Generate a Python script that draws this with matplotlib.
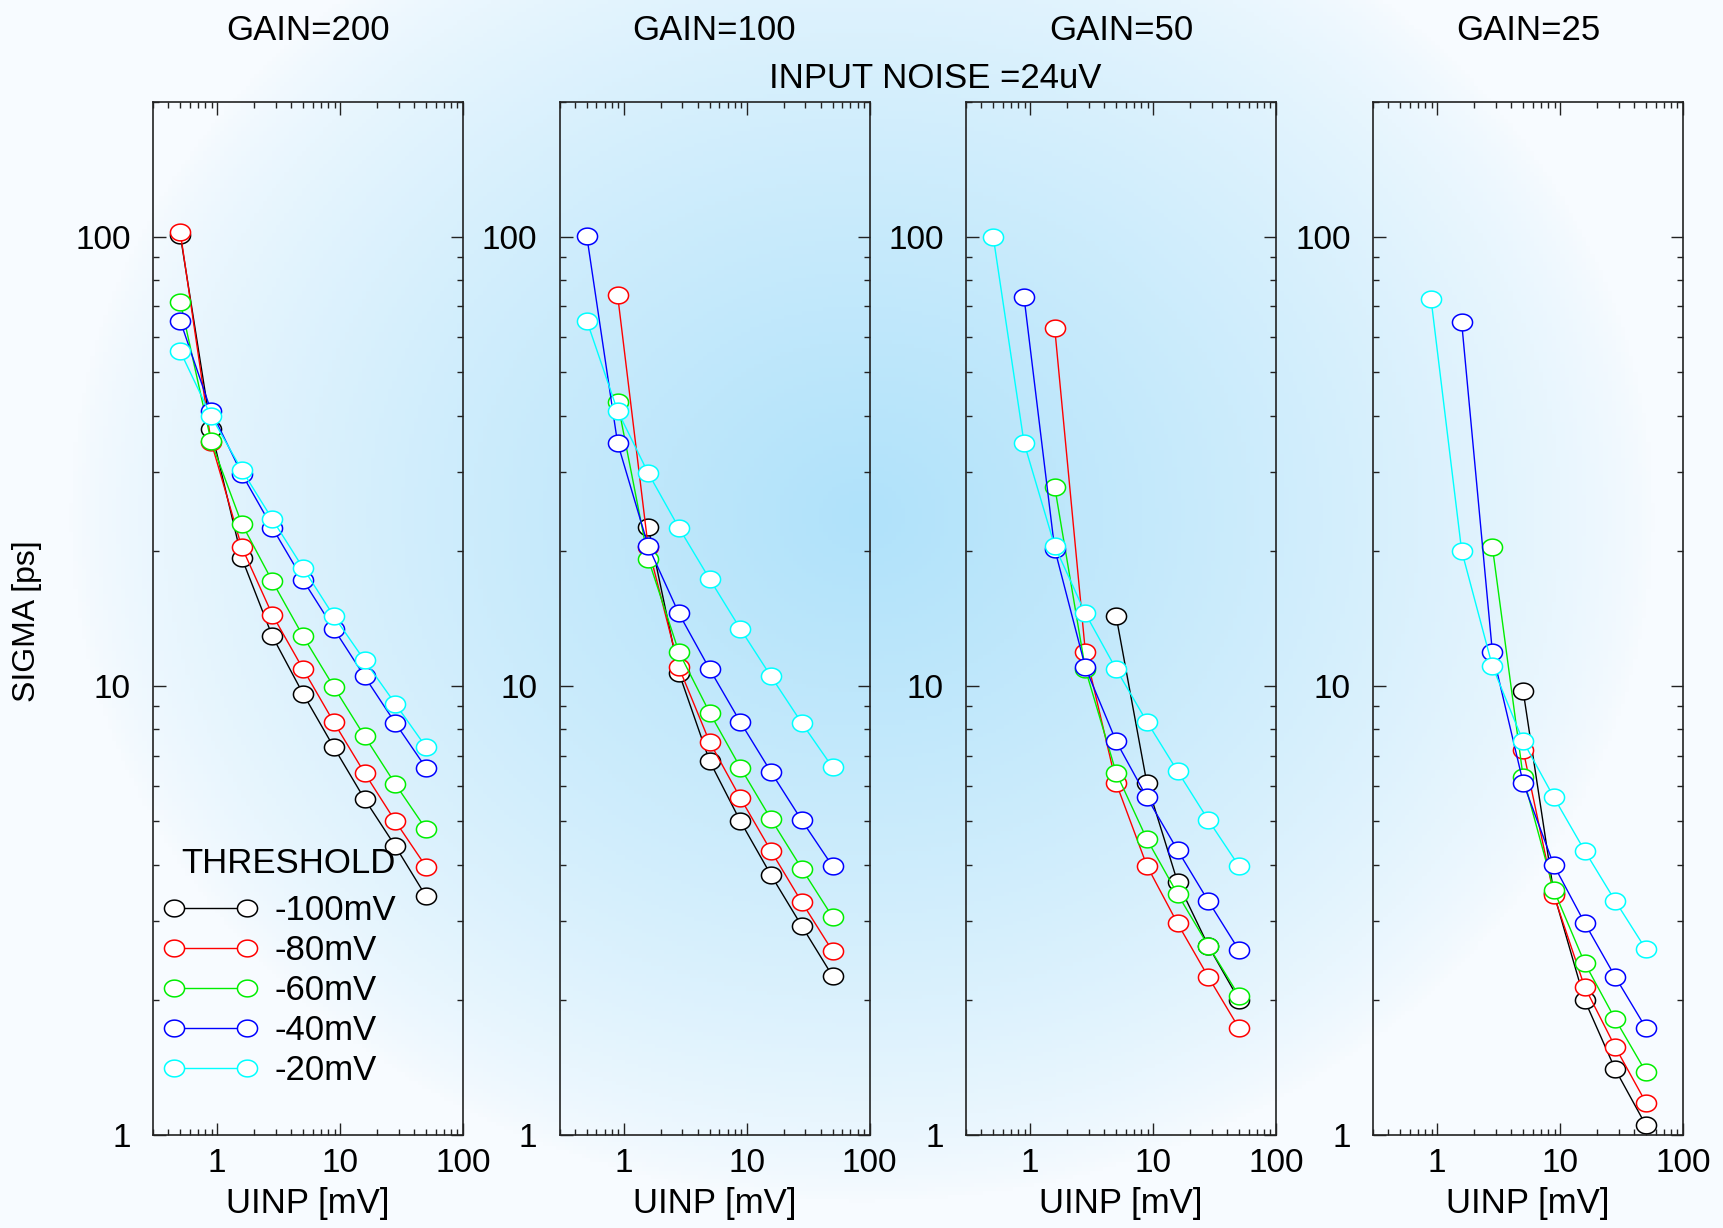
import numpy as np
import matplotlib
matplotlib.use("Agg")
import matplotlib.pyplot as plt
from matplotlib.path import Path
from matplotlib.ticker import LogLocator, NullFormatter, FixedLocator, FixedFormatter

plt.rcParams['font.family'] = ['Liberation Sans', 'DejaVu Sans']

nan = np.nan
uinp = [0.5, 0.89, 1.58, 2.81, 5.0, 8.89, 15.8, 28.1, 50.0]
gains = ["GAIN=200", "GAIN=100", "GAIN=50", "GAIN=25"]
thresholds = ["-100mV", "-80mV", "-60mV", "-40mV", "-20mV"]
colors = ["black", "#ff0000", "#00ee00", "#0000ff", "#00ffff"]

g200_m100 = [101, 37.3, 19.3, 12.9, 9.6, 7.3, 5.6, 4.4, 3.4]
g200_m80 = [102.5, 35.0, 20.4, 14.4, 10.9, 8.3, 6.4, 5.0, 3.96]
g200_m60 = [71.7, 35.1, 23.0, 17.1, 12.9, 9.95, 7.73, 6.05, 4.8]
g200_m40 = [65.0, 41.0, 29.7, 22.5, 17.2, 13.4, 10.5, 8.27, 6.57]
g200_m20 = [55.6, 39.9, 30.3, 23.5, 18.3, 14.3, 11.4, 9.13, 7.31]

g100_m100 = [nan, nan, 22.6, 10.7, 6.8, 5.0, 3.79, 2.92, 2.26]
g100_m80 = [nan, 74.4, 20.4, 11.0, 7.5, 5.63, 4.29, 3.30, 2.57]
g100_m60 = [nan, 42.9, 19.2, 11.9, 8.72, 6.58, 5.05, 3.92, 3.06]
g100_m40 = [100.5, 34.8, 20.5, 14.5, 10.9, 8.31, 6.43, 5.02, 3.97]
g100_m20 = [65.1, 41.0, 29.8, 22.5, 17.3, 13.4, 10.5, 8.27, 6.59]

g50_m100 = [nan, nan, nan, nan, 14.3, 6.08, 3.66, 2.64, 2.0]
g50_m80 = [nan, nan, 62.8, 11.9, 6.08, 3.98, 2.96, 2.25, 1.73]
g50_m60 = [nan, nan, 27.8, 10.9, 6.41, 4.56, 3.44, 2.64, 2.04]
g50_m40 = [nan, 73.4, 20.2, 11.0, 7.53, 5.65, 4.31, 3.32, 2.58]
g50_m20 = [100.0, 34.8, 20.5, 14.5, 10.9, 8.33, 6.46, 5.03, 3.97]

g25_m100 = [nan, nan, nan, nan, 9.75, 3.45, 2.0, 1.40, 1.05]
g25_m80 = [nan, nan, nan, nan, 7.2, 3.42, 2.14, 1.57, 1.18]
g25_m60 = [nan, nan, nan, 20.4, 6.27, 3.51, 2.42, 1.81, 1.38]
g25_m40 = [nan, nan, 64.5, 11.9, 6.09, 3.99, 2.97, 2.25, 1.73]
g25_m20 = [nan, 72.7, 20.0, 11.07, 7.53, 5.65, 4.30, 3.32, 2.59]

panels = [
    [g200_m100, g200_m80, g200_m60, g200_m40, g200_m20],
    [g100_m100, g100_m80, g100_m60, g100_m40, g100_m20],
    [g50_m100, g50_m80, g50_m60, g50_m40, g50_m20],
    [g25_m100, g25_m80, g25_m60, g25_m40, g25_m20],
]

W, H = 1724, 1228
fig = plt.figure(figsize=(W / 100, H / 100), dpi=100)

# background gradient
bg = fig.add_axes([0, 0, 1, 1], zorder=-10)
yy, xx = np.mgrid[0:1:300j, 0:1:400j]
r = np.sqrt(((xx - 0.5) / 0.46) ** 2 + ((yy - 0.42) / 0.56) ** 2)
t = np.clip(1 - r, 0, 1) ** 0.75
c_edge = np.array([247, 251, 255]) / 255.0
c_mid = np.array([176, 226, 250]) / 255.0
img = c_edge[None, None, :] * (1 - t[..., None]) + c_mid[None, None, :] * t[..., None]
bg.imshow(img, extent=[0, 1, 0, 1], aspect='auto', origin='upper')
bg.set_axis_off()

# elliptical marker
th = np.linspace(0, 2 * np.pi, 41)
ell = Path(np.column_stack([1.2 * np.cos(th), np.sin(th)]), closed=True)

lefts_px = [153, 559.5, 966, 1373]
ax_w = 310 / W
ax_b = (H - 1135) / H
ax_h = (1135 - 101.7) / H
fs = 24

for i, (title, series) in enumerate(zip(gains, panels)):
    ax = fig.add_axes([lefts_px[i] / W, ax_b, ax_w, ax_h])
    ax.set_facecolor('none')
    for lab, col, vals in zip(thresholds, colors, series):
        ax.plot(uinp, vals, color=col, lw=1.0, marker=ell, ms=14.5,
                mfc='white', mec=col, mew=1.1, label=lab)
    ax.set_xscale('log')
    ax.set_yscale('log')
    ax.set_xlim(0.3, 100)
    ax.set_ylim(1, 200)
    for axis in (ax.xaxis, ax.yaxis):
        axis.set_major_locator(FixedLocator([1, 10, 100]))
        axis.set_major_formatter(FixedFormatter(["1", "10", "100"]))
        axis.set_minor_locator(LogLocator(base=10, subs=np.arange(2, 10)))
        axis.set_minor_formatter(NullFormatter())
    ax.tick_params(which='both', direction='in', top=True, right=True,
                   labelsize=fs, color='#222222', width=1.0)
    ax.tick_params(which='major', length=9)
    ax.tick_params(which='minor', length=4.5)
    ax.tick_params(axis='y', which='major', pad=16)
    ax.tick_params(axis='x', which='major', pad=9)
    for s in ax.spines.values():
        s.set_linewidth(1.2)
        s.set_color('#222222')
    cx = (lefts_px[i] + 155) / W
    fig.text(cx, 1 - 30 / H, title, ha='center', va='center', fontsize=fs + 1)
    fig.text(cx, 1 - 1204 / H, "UINP [mV]", ha='center', va='center', fontsize=fs + 1)
    if i == 0:
        leg = ax.legend(loc='lower left', bbox_to_anchor=(-0.045, 0.023), frameon=False,
                        numpoints=2, handlelength=2.7, handletextpad=0.5,
                        labelspacing=0.2, fontsize=fs + 1, title="THRESHOLD",
                        title_fontsize=fs + 1, borderpad=0.2)
        leg._legend_box.align = "right"
        leg._legend_box.sep = 10.5

fig.text(935 / W, 1 - 78 / H, "INPUT NOISE =24uV", ha='center', va='center', fontsize=fs + 1)
fig.text(27.5 / W, 1 - 621 / H, "SIGMA [ps]", ha='center', va='center', rotation=90, fontsize=fs - 1)

fig.savefig("out.png", dpi=100)
